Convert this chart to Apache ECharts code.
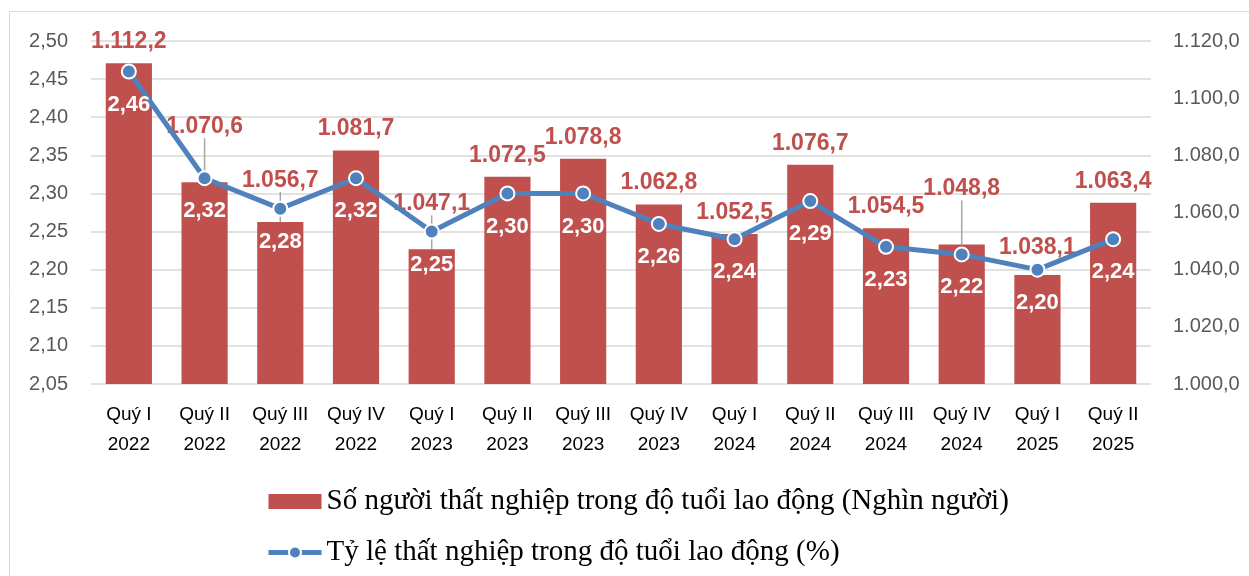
<!DOCTYPE html>
<html>
<head>
<meta charset="utf-8">
<script src="https://cdn.jsdelivr.net/npm/echarts@6/dist/echarts.min.js"></script>
<style>
  html, body { margin: 0; padding: 0; background: #fff; }
  #chart { width: 1249px; height: 576px; }
</style>
</head>
<body>
<div id="chart"></div>
<script>
// data
const quarters = ['Quý I\n2022', 'Quý II\n2022', 'Quý III\n2022', 'Quý IV\n2022',
  'Quý I\n2023', 'Quý II\n2023', 'Quý III\n2023', 'Quý IV\n2023',
  'Quý I\n2024', 'Quý II\n2024', 'Quý III\n2024', 'Quý IV\n2024',
  'Quý I\n2025', 'Quý II\n2025']
const unemployed = [1112.2, 1070.6, 1056.7, 1081.7, 1047.1, 1072.5, 1078.8,
  1062.8, 1052.5, 1076.7, 1054.5, 1048.8, 1038.1, 1063.4]
const rate = [2.46, 2.32, 2.28, 2.32, 2.25, 2.30, 2.30, 2.26, 2.24, 2.29, 2.23, 2.22, 2.20, 2.24]

const barName = 'Số người thất nghiệp trong độ tuổi lao động (Nghìn người)'
const lineName = 'Tỷ lệ thất nghiệp trong độ tuổi lao động (%)'

// extra lift for a few bar labels (pushed up in the original, with a leader line)
const labelLift = [0, 34, 20, 0, 24, 0, 0, 0, 0, 0, 0, 34, 6, 0]

const RED = '#C0504D'
const BLUE = '#4F81BD'
const SANS = '"Liberation Sans", Arial, sans-serif'

function viNum(v, digits) {
  const [i, d] = v.toFixed(digits).split('.')
  const int = i.replace(/\B(?=(\d{3})+(?!\d))/g, '.')
  return d ? int + ',' + d : int
}

const chart = echarts.init(document.getElementById('chart'))

chart.setOption({
  animation: false,
  textStyle: { fontFamily: SANS },
  graphic: [{
    type: 'rect',
    shape: { x: 9.5, y: 11.5, width: 1260, height: 600 },
    style: { fill: 'none', stroke: '#D9D9D9', lineWidth: 1 },
    silent: true
  }],
  grid: { left: 91, right: 98, top: 41, bottom: 192 },
  legend: {
    orient: 'vertical',
    left: 261,
    top: 482,
    itemWidth: 53,
    itemHeight: 15,
    itemGap: 22,
    textStyle: { fontFamily: '"Liberation Serif", "Times New Roman", serif', fontSize: 29, color: '#000' },
    data: [
      { name: barName, icon: 'rect' },
      { name: lineName, lineStyle: { width: 5 } }
    ]
  },
  xAxis: {
    type: 'category',
    data: quarters,
    axisLine: { show: false },
    axisTick: { show: false },
    axisLabel: { color: '#000', fontSize: 19, lineHeight: 30, margin: 16, interval: 0 }
  },
  yAxis: [{
    type: 'value',
    min: 2.05,
    max: 2.5,
    interval: 0.05,
    axisLine: { show: false },
    axisTick: { show: false },
    axisLabel: { color: '#595959', fontSize: 20, margin: 23, formatter: v => viNum(v, 2) },
    splitLine: { lineStyle: { color: '#D9D9D9', width: 1.5 } }
  }, {
    type: 'value',
    min: 1000,
    max: 1120,
    interval: 20,
    axisLine: { show: false },
    axisTick: { show: false },
    axisLabel: { color: '#595959', fontSize: 20, margin: 22, formatter: v => viNum(v, 1) },
    splitLine: { show: false }
  }],
  series: [{
    name: barName,
    type: 'bar',
    yAxisIndex: 1,
    barWidth: '61%',
    itemStyle: { color: RED },
    data: unemployed.map((v, i) => ({
      value: v,
      labelLine: { show: labelLift[i] > 10 }
    })),
    label: {
      show: true,
      position: 'top',
      distance: 10,
      color: RED,
      fontWeight: 'bold',
      fontSize: 23,
      formatter: p => viNum(p.value, 1)
    },
    labelLine: { lineStyle: { color: '#A6A6A6', width: 1.5 } },
    labelLayout: p => ({ dy: -labelLift[p.dataIndex] })
  }, {
    name: lineName,
    type: 'line',
    yAxisIndex: 0,
    z: 5,
    data: rate,
    symbol: 'circle',
    symbolSize: 14,
    lineStyle: { color: BLUE, width: 5 },
    itemStyle: { color: BLUE, borderColor: '#fff', borderWidth: 2 },
    label: {
      show: true,
      position: 'bottom',
      distance: 14,
      color: '#fff',
      fontWeight: 'bold',
      fontSize: 22,
      formatter: p => viNum(p.value, 2)
    }
  }]
})
</script>
</body>
</html>
